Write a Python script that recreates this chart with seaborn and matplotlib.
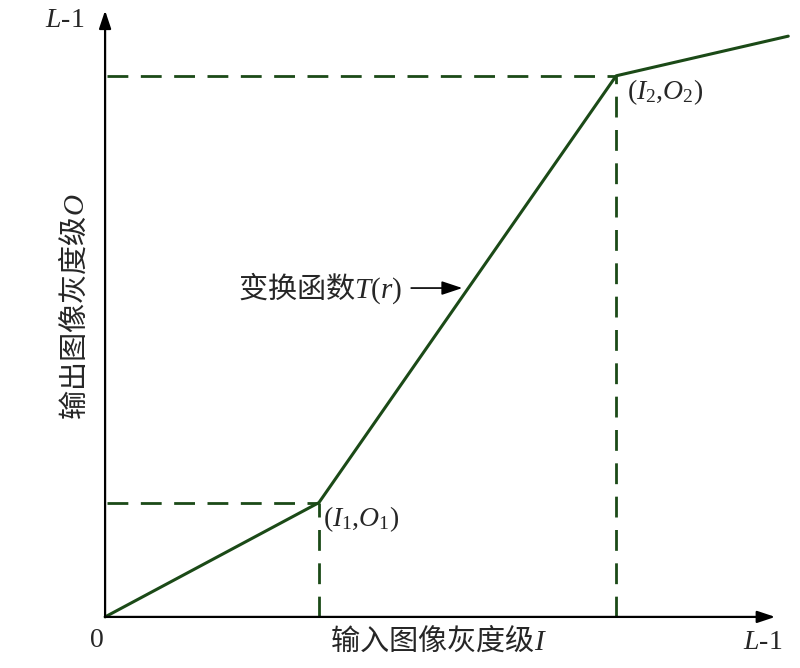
import matplotlib
matplotlib.use("Agg")
import matplotlib.pyplot as plt
import seaborn as sns

# 分段线性灰度变换的折点 (灰度单位, L-1 = 255)
r_pts = [0, 82, 196, 262]
s_pts = [0, 49, 232, 249]
pt_labels = [r"$(I_1{,}O_1)$", r"$(I_2{,}O_2)$"]

xlabel = "输入图像灰度级$I$"
ylabel = "输出图像灰度级$O$"
func_label = "变换函数$T(r)$"
max_label = "$L$-1"

sns.set_theme(style="white")
plt.rcParams["font.family"] = ["Noto Sans CJK SC", "DejaVu Sans"]
plt.rcParams["mathtext.fontset"] = "custom"
plt.rcParams["mathtext.rm"] = "Liberation Serif"
plt.rcParams["mathtext.it"] = "Liberation Serif:italic"

green = "#1b4a17"

fig = plt.figure(figsize=(8, 6.68), dpi=100)
ax = fig.add_axes([0, 0, 1, 1])
ax.set_xlim(-40.3, 266.5)
ax.set_ylim(-21.9, 264.5)
ax.axis("off")

# 坐标轴箭头
ax.annotate("", xy=(257, 0), xytext=(0, 0),
            arrowprops=dict(arrowstyle="-|>,head_length=0.9,head_width=0.3", color="black", lw=1.6,
                            shrinkA=0, shrinkB=0))
ax.annotate("", xy=(0, 260), xytext=(0, 0),
            arrowprops=dict(arrowstyle="-|>,head_length=0.9,head_width=0.3", color="black", lw=1.6,
                            shrinkA=0, shrinkB=0))

# 虚线
for xi, yi in zip(r_pts[1:3], s_pts[1:3]):
    ax.plot([0.8, xi], [yi, yi], color=green, lw=2.0, linestyle=(0, (7.5, 4.5)))
    ax.plot([xi, xi], [0, yi], color=green, lw=2.0, linestyle=(0, (7.5, 4.5)))

# 变换函数
sns.lineplot(x=r_pts, y=s_pts, sort=False, estimator=None, color=green, lw=2.2, ax=ax)

# 标注
ax.text(r_pts[1] + 1.5, s_pts[1] - 0.5, pt_labels[0], fontsize=20, ha="left", va="top")
ax.text(r_pts[2] + 4, s_pts[2] - 0.5, pt_labels[1], fontsize=20, ha="left", va="top")

ax.text(-3, -10, "0", fontsize=20, ha="center", va="center", family="Liberation Serif")
ax.text(252, -11, max_label, fontsize=20, ha="center", va="center", family="Liberation Serif")
ax.text(-15.5, 255.5, max_label, fontsize=20, ha="center", va="center", family="Liberation Serif")

ax.text(128, -10.5, xlabel, fontsize=21, ha="center", va="center")
ax.text(-11.7, 133, ylabel, fontsize=21, ha="center", va="center", rotation=90)

ax.annotate(func_label, xy=(137, 141), xytext=(114, 141), fontsize=21, ha="right", va="center",
            arrowprops=dict(arrowstyle="-|>,head_length=0.6,head_width=0.2", color="black", lw=1.2,
                            shrinkA=4, shrinkB=0))

fig.savefig("out.png", dpi=100)
